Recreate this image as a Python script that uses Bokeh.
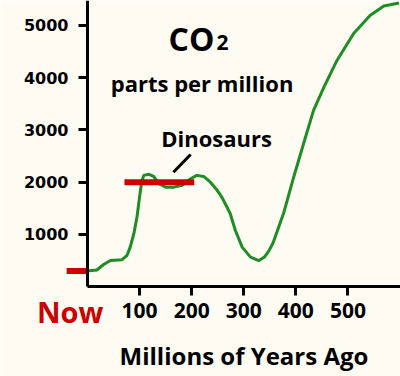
from bokeh.plotting import figure
from bokeh.models import FixedTicker, Label, Range1d, LinearAxis
from bokeh.embed import file_html
from bokeh.resources import INLINE

# ---- data ----
age = [0, 3, 18, 31, 44, 66, 76, 82, 89, 95, 100, 104, 108, 118, 127, 137, 150, 166, 182,
       198, 210, 223, 236, 247, 258, 274, 284, 297, 313, 329, 340, 348, 356, 365, 377, 396,
       415, 434, 454, 479, 511, 543, 569, 598]
co2 = [300, 305, 320, 425, 500, 515, 600, 757, 1013, 1330, 1715, 2000, 2130, 2150, 2110,
       1970, 1905, 1905, 1940, 2065, 2130, 2110, 2000, 1870, 1715, 1400, 1075, 757, 565,
       500, 570, 680, 830, 1080, 1420, 2100, 2740, 3375, 3820, 4330, 4845, 5195, 5370, 5430]
x_ticks = [100, 200, 300, 400, 500]
y_ticks = [1000, 2000, 3000, 4000, 5000]
now_co2 = 300
dino_start, dino_end, dino_co2 = 71, 205, 2000

# ---- view ----
X_MIN, X_MAX = -167, 601
Y_MIN, Y_MAX = -1719, 5477

BG = "#FEFCF2"
GREEN = "#1F8C24"
RED = "#CC0000"

p = figure(width=400, height=376, output_backend="svg", toolbar_location=None,
           x_range=Range1d(X_MIN, X_MAX), y_range=Range1d(Y_MIN, Y_MAX),
           x_axis_type=None, y_axis_type=None, min_border=0)
p.background_fill_color = BG
p.border_fill_color = BG
p.outline_line_color = None
p.grid.visible = False

xax = LinearAxis(fixed_location=0, bounds=(0, X_MAX), ticker=FixedTicker(ticks=x_ticks))
yax = LinearAxis(fixed_location=0, bounds=(0, Y_MAX), ticker=FixedTicker(ticks=y_ticks))
for ax in (xax, yax):
    ax.axis_line_width = 3
    ax.axis_line_color = "black"
    ax.major_tick_line_width = 3
    ax.major_tick_in = 0
    ax.major_tick_out = 9
    ax.minor_tick_line_color = None
    ax.major_label_text_color = "black"
    ax.major_label_text_font_style = "bold"

xax.major_label_text_font = "Open Sans"
xax.major_label_text_font_size = "21px"
xax.major_label_standoff = 7
xax.axis_label = "Millions of Years Ago"
xax.axis_label_text_font = "Open Sans"
xax.axis_label_text_font_style = "bold"
xax.axis_label_text_font_size = "24px"
xax.axis_label_text_color = "black"
xax.axis_label_standoff = 18

yax.major_label_text_font = "DejaVu Sans"
yax.major_label_text_font_size = "16px"
yax.major_label_standoff = 10

p.add_layout(xax, "below")
p.add_layout(yax, "left")

# CO2 curve
p.line(age, co2, line_color=GREEN, line_width=3)

# dinosaurs bar
p.segment(x0=[dino_start], y0=[dino_co2], x1=[dino_end], y1=[dino_co2],
          line_color=RED, line_width=6)
# "Now" marker just left of the axis
p.segment(x0=[-40], y0=[now_co2], x1=[0], y1=[now_co2], line_color=RED, line_width=6)
# pointer to dinosaurs bar
p.segment(x0=[165], y0=[2191], x1=[198], y1=[2530], line_color="black", line_width=3)


def lab(x, y, text, size, align="center", color="black", font="Open Sans"):
    p.add_layout(Label(x=x, y=y, text=text, text_font=font, text_font_style="bold",
                       text_font_size=size, text_color=color, text_align=align,
                       text_baseline="alphabetic"))


lab(155.7, 4754, "CO", "32px", align="left")
lab(247.9, 4674, "2", "21px", align="left")
lab(220, 3902, "parts per million", "22px")
lab(247.9, 2854, "Dinosaurs", "22px")
lab(-33.4, -474, "Now", "29px", color=RED)

open("out.html", "w").write(file_html(p, INLINE))
